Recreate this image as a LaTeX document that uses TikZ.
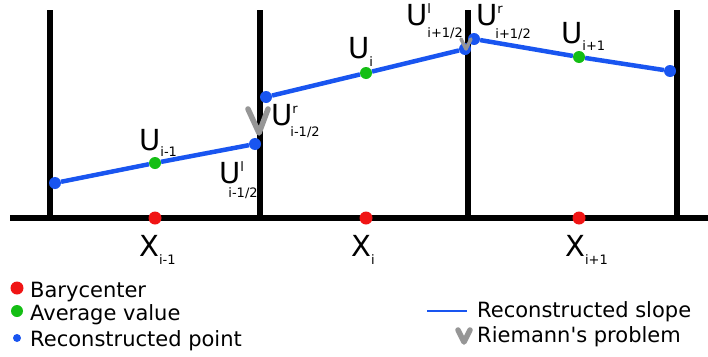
\documentclass[tikz,border=0pt]{standalone}
\usepackage{fontspec}
\setmainfont{DejaVu Sans}[Ligatures=TeXOff]
\usetikzlibrary{positioning}

\definecolor{bred}{RGB}{240,20,20}
\definecolor{bgreen}{RGB}{20,190,20}
\definecolor{bblue}{RGB}{25,85,240}
\definecolor{rgray}{RGB}{150,150,150}

\newcommand{\subsz}{\fontsize{13}{13}\selectfont}
% value with a lowered index
\newcommand{\Ucell}[3][-7pt]{#2\raisebox{#1}{\subsz #3}}
% value with upper and lower index at an interface
\newcommand{\Uface}[4][0pt]{U\rlap{\raisebox{12pt}{\subsz #2}}\raisebox{#3}{\kern#1\subsz #4}}

\begin{document}
\begin{tikzpicture}[
  x=1pt, y=-1pt,
  wall/.style={line width=6.5pt},
  slope/.style={line width=4.5pt, draw=bblue},
  bary/.style={circle, fill=bred, inner sep=0pt, minimum size=13pt},
  avg/.style={circle, fill=bgreen, inner sep=0pt, minimum size=12pt},
  recon/.style={circle, fill=bblue, inner sep=0pt, minimum size=12pt},
  riemann/.style={draw=rgray, line width=5.5pt, line join=round, line cap=round},
  big/.style={anchor=base west, inner sep=0pt, font=\fontsize{29}{29}\selectfont},
  legend/.style={anchor=base west, inner sep=0pt, font=\fontsize{21}{21}\selectfont}
]
  \useasboundingbox (0,0) rectangle (708,356);

  % mesh
  \draw[wall] (10,218) -- (708,218);
  \foreach \xw in {50,260,468,677}
    \draw[wall] (\xw,10) -- (\xw,218);

  % barycenters
  \node[bary] (b1) at (155,218) {};
  \node[bary] (b2) at (366,218) {};
  \node[bary] (b3) at (579,218) {};
  \node[big] (x1) at (139,256) {\Ucell[-8pt]{X}{i-1}};
  \node[big] (x2) at (351,256) {\Ucell[-8pt]{X}{i}};
  \node[big] (x3) at (565,256) {\Ucell[-8pt]{X}{i+1}};

  % reconstructed points and averages
  \node[recon] (l1) at (55,183) {};
  \node[avg] (a1) at (155,163) {};
  \node[recon] (r1) at (255,144) {};
  \node[recon] (l2) at (266,97) {};
  \node[avg] (a2) at (366,73) {};
  \node[recon] (r2) at (465,49) {};
  \node[recon] (l3) at (474,39) {};
  \node[avg] (a3) at (579,57) {};
  \node[recon] (r3) at (670,71) {};

  \draw[slope] (l1) -- (a1) -- (r1);
  \draw[slope] (l2) -- (a2) -- (r2);
  \draw[slope] (l3) -- (a3) -- (r3);

  % Riemann problems
  \draw[riemann] (248,109) -- (259,133) -- (268,109);
  \draw[riemann, line width=3.5pt] (461,39) -- (466,49) -- (471,39);

  % labels
  \node[big] (um1) at (139,150) {\Ucell[-6pt]{U}{i-1}};
  \node[big] (ui) at (348,58) {\Ucell[-8pt]{U}{i}};
  \node[big] (up1) at (561,43) {\Ucell[-7pt]{U}{i+1}};
  \node[big] (ulm) at (219,183) {\Uface[-12pt]{l}{-14pt}{i-1/2}};
  \node[big] (urm) at (271,125) {\Uface[-2pt]{r}{-11pt}{i-1/2}};
  \node[big] (ulp) at (406,25) {\Uface{l}{-12pt}{i+1/2}};
  \node[big] (urp) at (476,25) {\Uface[-2pt]{r}{-13pt}{i+1/2}};

  % legend
  \node[bary] (kb) at (17,288) {};
  \node[avg] (ka) at (17,311) {};
  \node[recon, minimum size=8pt] (kr) at (17,338) {};
  \node[legend] (tb) at (30,297) {Barycenter};
  \node[legend] (ta) at (30,320) {Average value};
  \node[legend] (tr) at (30,346) {Reconstructed point};

  \coordinate (ks1) at (427,311);
  \coordinate (ks2) at (467,311);
  \draw[draw=bblue, line width=2.5pt] (ks1) -- (ks2);
  \draw[riemann] (458,330) -- (464,342) -- (470,330);
  \node[legend] (ts) at (477,317) {Reconstructed slope};
  \node[legend] (tp) at (477,342) {Riemann's problem};
\end{tikzpicture}
\end{document}
